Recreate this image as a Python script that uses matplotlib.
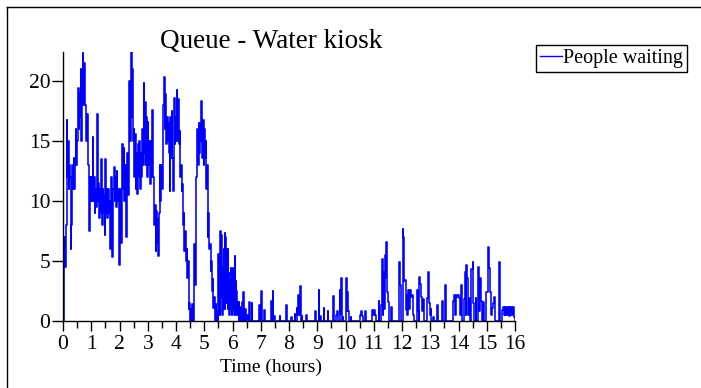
import numpy as np
import matplotlib
matplotlib.use("Agg")
import matplotlib.pyplot as plt
from matplotlib.lines import Line2D

# ---- data ----
busy_step = 0.025  # hours between readings in the busy morning period
busy_people = [
    0, 1.5, 7, 4.5, 8, 16.7, 12, 15, 11, 13, 12, 6, 8, 13, 11, 13.6, 11, 13, 16, 13,
    15, 19.4, 16, 19, 17, 21, 15, 20, 22.3, 18, 21.5, 18, 17.5, 15, 17.2, 15, 13, 7.5, 12, 10,
    12, 10, 15.3, 10, 12, 9, 11, 9.5, 17.2, 10, 11.5, 8.6, 11, 9, 13.5, 8, 11, 9, 10.5, 7.2,
    13.5, 9, 11, 8.6, 11, 9, 10, 6, 12, 9, 5.3, 11, 12.8, 10, 12, 9.5, 12.5, 10, 11, 4.7,
    8, 11, 6.5, 13, 14.7, 11, 14.4, 10, 13, 7, 12, 14, 10.5, 17, 20, 15, 22.4, 17, 21, 15,
    16, 12, 15.6, 11, 14, 10.6, 14.7, 12, 15, 11, 14, 12, 16, 13, 19.8, 14, 18.2, 13, 17, 12,
    16.6, 13, 15, 11.4, 15, 12, 17.6, 13, 12, 8, 9.7, 5.8, 9.2, 6.5, 8.5, 5.4, 9, 13, 10, 13,
    11, 16.4, 18, 20.3, 16, 18.9, 14.7, 17, 15, 16.5, 14, 10.8, 17, 13.6, 17.5, 13.6, 10.8, 18.6, 14.7, 17,
    15, 19.2, 15, 18.5, 14.7, 15.8, 12, 13, 10.8, 11.4, 8, 9, 5.8, 7.5, 5, 6, 3.6, 5, 1, 1.5,
    0, 1, 0, 1.4, 0, 1, 6.4, 3, 10, 12, 16, 13, 16.5, 14, 16.5, 15, 18.3, 13.6, 16.7, 13,
    16, 13.6, 15, 11, 13, 7, 9, 6, 6.4, 4.2, 5, 2.5, 3.5, 1.1, 2, 0, 1.4, 0, 0.8, 0,
]

quiet_hours = [
    5.490, 5.510, 5.530, 5.550, 5.570, 5.585, 5.600, 5.615, 5.630, 5.645,
    5.660, 5.675, 5.690, 5.705, 5.720, 5.735, 5.750, 5.765, 5.780, 5.795,
    5.810, 5.825, 5.840, 5.855, 5.870, 5.885, 5.900, 5.915, 5.930, 5.945,
    5.960, 5.975, 5.990, 6.005, 6.020, 6.035, 6.050, 6.065, 6.080, 6.095,
    6.110, 6.125, 6.140, 6.155, 6.170, 6.185, 6.200, 6.215, 6.230, 6.245,
    6.260, 6.275, 6.300, 6.320, 6.340, 6.355, 6.380, 6.400, 6.44, 6.47,
    6.52, 6.55, 6.60, 6.62, 6.68, 6.70, 6.95, 6.97, 7.02, 7.04,
    7.06, 7.12, 7.14, 7.37, 7.39, 7.42, 7.44, 7.48, 7.50, 7.67,
    7.69, 7.90, 7.92, 8.08, 8.10, 8.20, 8.22, 8.27, 8.29, 8.33,
    8.35, 8.38, 8.41, 8.45, 8.47, 8.60, 8.62, 8.92, 8.94, 9.05,
    9.07, 9.10, 9.12, 9.23, 9.25, 9.37, 9.39, 9.57, 9.59, 9.68,
    9.70, 9.72, 9.79, 9.81, 9.84, 9.86, 9.90, 9.92, 10.02, 10.04,
    10.07, 10.09, 10.11, 10.18, 10.20, 10.53, 10.56, 10.60, 10.62, 10.70,
    10.72, 10.95, 10.98, 11.02, 11.05, 11.08, 11.18, 11.20, 11.27, 11.29,
    11.31, 11.34, 11.37, 11.39, 11.42, 11.45, 11.47, 11.50, 11.53, 11.62,
    11.64, 11.88, 11.90, 11.92, 11.95, 11.98, 12.03, 12.05, 12.08, 12.10,
    12.13, 12.16, 12.19, 12.23, 12.26, 12.29, 12.33, 12.36, 12.40, 12.42,
    12.53, 12.56, 12.59, 12.61, 12.64, 12.67, 12.70, 12.74, 12.78, 12.88,
    12.92, 12.95, 12.99, 13.02, 13.04, 13.10, 13.12, 13.24, 13.26, 13.28,
    13.40, 13.43, 13.45, 13.52, 13.54, 13.81, 13.84, 13.86, 13.90, 13.94,
    13.98, 14.01, 14.04, 14.09, 14.11, 14.14, 14.19, 14.22, 14.25, 14.28,
    14.30, 14.33, 14.36, 14.39, 14.45, 14.50, 14.53, 14.56, 14.61, 14.63,
    14.68, 14.71, 14.74, 14.77, 14.80, 14.83, 14.87, 14.89, 14.97, 15.00,
    15.03, 15.06, 15.09, 15.12, 15.15, 15.20, 15.23, 15.26, 15.29, 15.43,
    15.46, 15.48, 15.53, 15.56, 15.60, 15.63, 15.66, 15.69, 15.72, 15.75,
    15.78, 15.81, 15.84, 15.87, 15.90, 15.93, 15.96, 15.99,
]
quiet_people = [
    5.6, 1, 3.3, 0.5, 7.5, 2, 7.2, 1, 6.3, 0.5,
    4.5, 1, 6, 2, 7.3, 1, 7, 1.5, 6, 2,
    5.5, 1, 6, 2, 4, 0.5, 3.5, 1, 4.4, 1,
    3.8, 0.5, 3, 1, 4.4, 1.5, 3, 0.5, 5.4, 1,
    3.3, 0.5, 2.5, 1, 1.6, 0.5, 1.5, 0, 1.6, 0.5,
    1.2, 0, 1, 0, 1.6, 0, 2.4, 0, 1, 0,
    0.5, 0, 1.6, 0, 1.5, 0, 1.3, 0, 2.5, 0.8,
    0, 0.9, 0, 1.7, 0, 2.5, 0, 0.4, 0, 0.4,
    0, 1.3, 0, 0.3, 0, 0.6, 0, 1.1, 0.5, 2.2,
    0.5, 2.9, 0, 0.4, 0, 0.5, 0, 0.8, 0, 2.6,
    0, 0.4, 0, 1.1, 0, 0.8, 0, 2.1, 0, 0.5,
    0.8, 0, 2.6, 0.6, 3.6, 0, 0.3, 0, 3.6, 0.8,
    2.4, 0.8, 0, 0.3, 0, 0.5, 0.8, 0.4, 0, 0.8,
    0, 0.9, 0.5, 0.9, 0.5, 0, 1.7, 0, 1.3, 5.2,
    0.5, 4.1, 1, 5.5, 3.6, 6.6, 2.4, 1.6, 0, 1.2,
    0, 3.6, 4.9, 3, 0.5, 0, 7.7, 7, 3.3, 3.4,
    0.9, 2.2, 0.5, 2.6, 1, 2.6, 2, 2.2, 0.5, 0,
    2.6, 0.8, 0, 3.7, 3.1, 2, 0.8, 1.8, 0, 1.9,
    4.1, 1.5, 0.5, 1, 0, 0.3, 0, 1.3, 0.9, 0,
    0.8, 1.7, 0, 3, 0, 1.7, 2.2, 0.5, 2.2, 2,
    2.2, 1.9, 0.5, 3, 0.8, 0, 1.8, 4.1, 0.5, 4.7,
    3.6, 0.5, 1.9, 0, 4.3, 4.9, 1.5, 0, 1.9, 0,
    4.5, 3.6, 0.8, 3.6, 1.7, 0, 1.6, 0, 2.4, 2.4,
    5.4, 6.2, 4.4, 2.4, 0.5, 1.1, 1.5, 2, 0, 4.9,
    2.6, 0, 0.9, 1.2, 0.5, 1.2, 0.5, 1.2, 0.5, 1.2,
    0.4, 1.2, 0.5, 1.2, 0.5, 1.2, 0.3, 0,
]

x_ticks = list(range(0, 17))
y_ticks = [0, 5, 10, 15, 20]
title = "Queue - Water kiosk"
x_label = "Time (hours)"
series_name = "People waiting"

busy_hours = np.arange(len(busy_people)) * busy_step
hours = np.concatenate([busy_hours, quiet_hours])
people = np.concatenate([busy_people, quiet_people])

# ---- figure ----
W, H = 701, 388
fig = plt.figure(figsize=(W / 100, H / 100), dpi=100)
plt.rcParams["font.family"] = ["Liberation Serif", "DejaVu Serif"]

ax = fig.add_axes([63 / W, (H - 321) / H, 452 / W, (321 - 52) / H])
line, = ax.plot(hours, people, color="#0000ff", lw=1.15, drawstyle="steps-post",
                label=series_name)
ax.set_xlim(0, 16)
ax.set_ylim(0, 22.4)
for s in ("top", "right"):
    ax.spines[s].set_visible(False)
for s in ("left", "bottom"):
    ax.spines[s].set_linewidth(1.0)
    ax.spines[s].set_color("black")

ax.set_xticks(x_ticks)
ax.set_xticks(np.arange(0.5, 16, 1.0), minor=True)
ax.set_yticks(y_ticks)
ax.tick_params(axis="x", which="major", length=7, width=1, pad=3, labelsize=15.5)
ax.tick_params(axis="x", which="minor", length=5, width=1)
ax.tick_params(axis="y", which="major", length=8, width=1, pad=1, labelsize=15.5)

ax.set_xlabel(x_label, fontsize=14, labelpad=2)
ax.xaxis.set_label_coords((271 - 63) / 452, -0.14)

fig.text(271 / W, 1 - 48 / H, title, fontsize=19.5, ha="center", va="baseline")

leg = ax.legend(handles=[line], loc="upper left",
                bbox_to_anchor=(536 / W, 1 - 45 / H), bbox_transform=fig.transFigure,
                borderaxespad=0, fancybox=False, framealpha=1, edgecolor="black",
                fontsize=14.5, handlelength=1.1, handletextpad=0.05, borderpad=0.2)
leg.get_frame().set_linewidth(1.0)
leg.legend_handles[0].set_linewidth(1.0)

# outer frame lines (left and top)
fig.add_artist(Line2D([6.5 / W, 6.5 / W], [0, 1 - 7 / H], transform=fig.transFigure,
                      color="black", lw=1))
fig.add_artist(Line2D([6.5 / W, 1], [1 - 7 / H, 1 - 7 / H], transform=fig.transFigure,
                      color="black", lw=1))

fig.savefig("out.png", dpi=100)
